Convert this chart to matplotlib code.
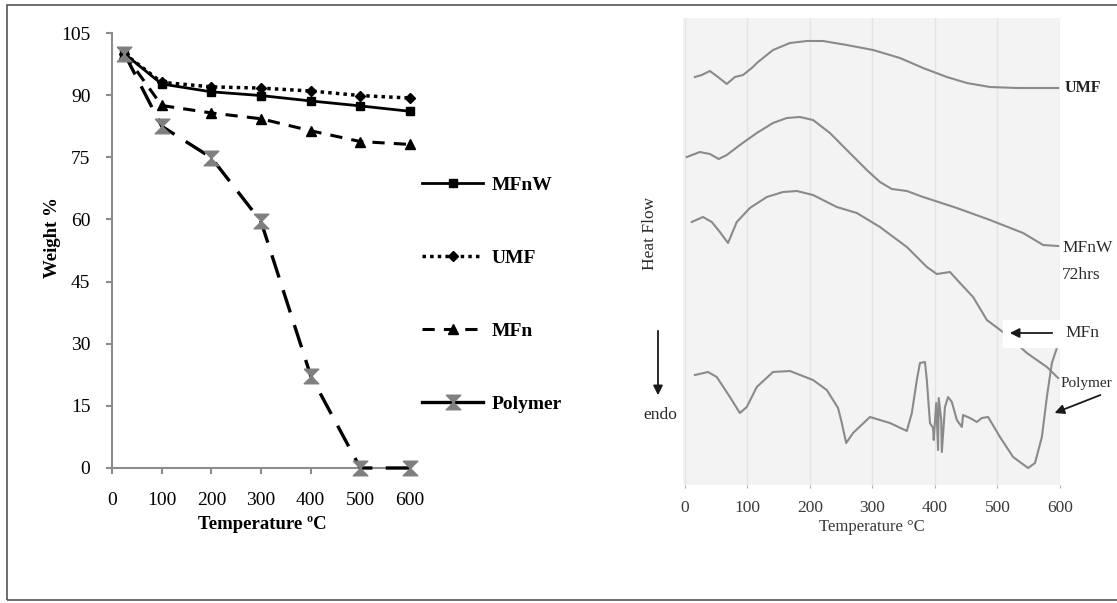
import matplotlib
matplotlib.use("Agg")
import matplotlib.pyplot as plt
from matplotlib.lines import Line2D
from matplotlib.patches import Rectangle, FancyArrowPatch

plt.rcParams['font.family'] = ['Liberation Serif', 'DejaVu Serif']

# ---- TGA data (left panel) ----
temps = [25, 100, 200, 300, 400, 500, 600]
mfnw = [100, 92.7, 90.8, 89.9, 88.6, 87.4, 86.1]
umf = [100, 93.1, 92.0, 91.7, 91.0, 89.9, 89.3]
mfn = [100, 87.5, 85.7, 84.3, 81.4, 78.8, 78.1]
polymer = [100, 82.5, 74.9, 59.5, 22.3, 0, 0]
yticks = [0, 15, 30, 45, 60, 75, 90, 105]
xticks = [0, 100, 200, 300, 400, 500, 600]

# ---- DSC traces (right panel), heat flow in arbitrary units ----
umf_T = [16, 27, 40, 53, 67, 80, 93, 107, 117, 141, 168, 195, 221, 259, 301, 344,
         381, 419, 451, 488, 531, 568, 597]
umf_H = [408, 410, 414, 408, 401, 408, 410, 417, 423, 435, 442, 444, 444, 440, 435, 427,
         417, 408, 402, 398, 397, 397, 397]

mfnw_T = [3, 24, 40, 54, 67, 88, 115, 141, 163, 184, 205, 232, 259, 291, 312, 331,
          355, 381, 435, 488, 541, 573, 597]
mfnw_H = [328, 333, 331, 326, 330, 340, 352, 362, 367, 368, 365, 352, 335, 315, 303, 296,
          294, 288, 277, 265, 252, 240, 239]

mfn_T = [11, 29, 43, 56, 69, 83, 104, 131, 157, 179, 205, 243, 275, 312, 355, 387,
         403, 424, 440, 461, 483, 515, 547, 579, 597]
mfn_H = [263, 268, 263, 253, 242, 263, 277, 288, 293, 294, 290, 278, 272, 258, 238, 218,
         211, 213, 202, 188, 165, 150, 132, 118, 107]

poly_T = [16, 37, 51, 72, 88, 99, 115, 141, 168, 205, 227, 245, 251, 258, 269, 296,
          328, 355, 363, 371, 376, 384, 387, 392, 397, 398, 402, 405, 406, 410, 411,
          416, 421, 427, 435, 443, 445, 456, 467, 475, 485, 504, 525, 549, 560, 571,
          579, 587, 595]
poly_H = [110, 113, 108, 88, 72, 78, 98, 113, 114, 105, 95, 77, 62, 42, 52, 68,
          62, 54, 72, 105, 122, 123, 105, 62, 57, 45, 82, 35, 87, 65, 33,
          78, 88, 83, 65, 58, 70, 67, 63, 67, 68, 48, 28, 17, 22, 48,
          88, 122, 137]

W, H = 1117, 603
fig = plt.figure(figsize=(W / 100, H / 100), dpi=100)

def fx(px):
    return px / W

def fy(py):
    return 1 - py / H

# outer frame
fig.add_artist(Rectangle((fx(7), fy(600)), 1.2, fy(5) - fy(600), transform=fig.transFigure,
                         fill=False, edgecolor='#555555', lw=1.2))

# ================= left: TGA =================
ax = fig.add_axes([fx(112), fy(468), fx(410) - fx(112), fy(33) - fy(468)])
axis_col = '#8c8c8c'
l1, = ax.plot(temps, mfnw, color='black', lw=2, marker='s', ms=5.5, clip_on=False, label='MFnW')
l2, = ax.plot(temps, umf, color='black', lw=2.5, ls=(0, (1, 1.2)), marker='D', ms=5,
              clip_on=False, label='UMF')
l3, = ax.plot(temps, mfn, color='black', lw=2.2, ls=(0, (4, 3)), marker='^', ms=6.5,
              clip_on=False, label='MFn')
hourglass = [(-1, 1), (1, 1), (-1, -1), (1, -1), (-1, 1)]
ax.plot(temps, polymer, color='black', lw=2.4, ls=(0, (7, 4)), marker=hourglass, ms=10.5,
        mfc='#7f7f7f', mec='#7f7f7f', clip_on=False, zorder=3)

ax.set_xlim(0, 600)
ax.set_ylim(0, 105)
ax.set_xticks(xticks)
ax.set_yticks(yticks)
for s in ['top', 'right']:
    ax.spines[s].set_visible(False)
for s in ['left', 'bottom']:
    ax.spines[s].set_color(axis_col)
    ax.spines[s].set_linewidth(1.5)
ax.tick_params(axis='y', direction='out', length=4.5, width=1.5, color=axis_col, pad=11,
               labelsize=14)
ax.tick_params(axis='x', direction='out', length=4.5, width=1.5, color=axis_col, pad=13,
               labelsize=14)
ax.set_xlabel('Temperature ºC', fontsize=13.5, fontweight='bold')
ax.set_ylabel('Weight %', fontsize=13.5, fontweight='bold')
ax.xaxis.set_label_coords(0.503, -0.13)
ax.yaxis.set_label_coords(-0.2, 0.53)
ax.xaxis.label.set_va('center')
ax.yaxis.label.set_va('center')

poly_handle = Line2D([], [], color='black', lw=2.4, marker=hourglass, ms=10.5,
                     mfc='#7f7f7f', mec='#7f7f7f')
fig.legend([l1, l2, l3, poly_handle], ['MFnW', 'UMF', 'MFn', 'Polymer'],
           loc='upper left', bbox_to_anchor=(fx(422), fy(176)), frameon=False,
           prop={'size': 14, 'weight': 'bold'}, handlelength=3.15, handletextpad=0.45,
           labelspacing=2.85, borderpad=0, borderaxespad=0)

# ================= right: DSC scan =================
bx = fig.add_axes([fx(683), fy(485), fx(1060) - fx(683), fy(18) - fy(485)])
bx.set_facecolor('#f3f3f3')
bx.set_xlim(-3, 600)
bx.set_ylim(0, 467)
bx.set_xticks(xticks)
bx.set_yticks([])
bx.grid(axis='x', color='#e4e4e4', lw=1)
for s in bx.spines.values():
    s.set_visible(False)
bx.tick_params(axis='x', length=2, color='#b0b0b0', pad=9, labelsize=12.5, labelcolor='#3a3a3a')

trace = dict(color='#8a8a8a', lw=1.5)
bx.plot(umf_T, umf_H, **trace)
bx.plot(mfnw_T, mfnw_H, **trace)
bx.plot(mfn_T, mfn_H, **trace)
bx.plot(poly_T, poly_H, **trace)

bx.set_xlabel('Temperature °C', fontsize=12, color='#3a3a3a')
bx.xaxis.set_label_coords(0.5, -0.09)
bx.xaxis.label.set_va('center')

# white box behind MFn arrow, as on the scan
fig.add_artist(Rectangle((fx(1003), fy(347)), fx(1103) - fx(1003), fy(320) - fy(347),
                         transform=fig.transFigure, color='white', zorder=2))

txt = dict(color='#2a2a2a', fontsize=12.5, va='center')
fig.text(fx(1065), fy(88), 'UMF', fontweight='bold', fontsize=11.5, color='#222222', va='center')
fig.text(fx(1062), fy(248), 'MFnW', **txt)
fig.text(fx(1062), fy(275), '72hrs', **txt)
fig.text(fx(1065), fy(333), 'MFn', **txt)
fig.text(fx(1061), fy(383), 'Polymer', color='#2a2a2a', fontsize=11, va='center')
fig.text(fx(650), fy(233), 'Heat Flow', rotation=90, ha='center', **txt)
fig.text(fx(660), fy(415), 'endo', ha='center', **txt)

arrow = dict(arrowstyle='-|>', color='#1a1a1a', lw=1.3, mutation_scale=14)
fig.add_artist(FancyArrowPatch((fx(658), fy(328)), (fx(658), fy(398)),
                               transform=fig.transFigure, zorder=3, **arrow))
fig.add_artist(FancyArrowPatch((fx(1055), fy(333)), (fx(1007), fy(333)),
                               transform=fig.transFigure, zorder=3, **arrow))
fig.add_artist(FancyArrowPatch((fx(1103), fy(394)), (fx(1052), fy(414)),
                               transform=fig.transFigure, zorder=3, **arrow))

fig.savefig('out.png', dpi=100, facecolor='white')
